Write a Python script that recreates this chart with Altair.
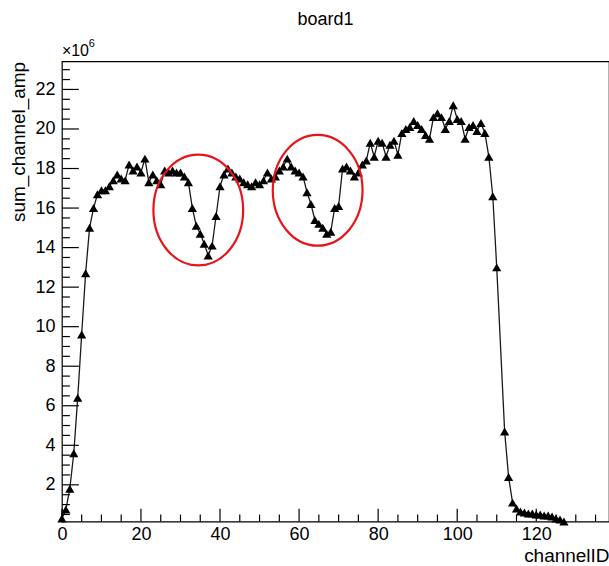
import altair as alt
import pandas as pd

# Summed channel amplitude per channel (units of 1e6); channel 111 has no entry
channels = list(range(0, 111)) + list(range(112, 128))
amp = [
    0.3, 0.75, 1.8, 3.6, 6.4, 9.6, 12.7, 15.0, 16.0, 16.7,          # 0-9
    16.9, 16.9, 17.1, 17.4, 17.7, 17.5, 17.4, 18.2, 17.9, 18.1,     # 10-19
    17.8, 18.5, 17.3, 17.7, 17.4, 17.2, 17.9, 17.8, 17.9, 17.8,     # 20-29
    17.8, 17.6, 17.3, 16.0, 15.1, 14.7, 14.2, 13.6, 14.1, 15.6,     # 30-39
    17.1, 17.7, 18.0, 17.8, 17.6, 17.5, 17.3, 17.2, 17.1, 17.3,     # 40-49
    17.2, 17.4, 17.8, 17.5, 17.6, 17.9, 18.1, 18.5, 18.1, 17.9,     # 50-59
    17.8, 17.6, 16.8, 16.2, 15.4, 15.2, 15.0, 14.7, 14.8, 16.0,     # 60-69
    16.1, 18.0, 18.1, 17.9, 17.6, 17.8, 18.2, 18.4, 19.3, 18.6,     # 70-79
    19.4, 19.3, 18.6, 19.2, 19.4, 18.7, 19.8, 20.0, 20.1, 20.4,     # 80-89
    20.2, 20.0, 19.7, 19.5, 20.6, 20.8, 20.6, 20.0, 20.4, 21.2,     # 90-99
    20.5, 20.4, 19.5, 20.1, 20.2, 19.9, 20.3, 19.8, 18.6, 16.6,     # 100-109
    13.0,                                                           # 110
    4.7, 2.4, 1.1, 0.8, 0.65, 0.6, 0.55, 0.55, 0.5,                 # 112-120
    0.5, 0.45, 0.45, 0.4, 0.3, 0.25, 0.15,                          # 121-127
]

# Highlighted regions (centre channel, centre amplitude)
ring_x = [34.5, 64.7]
ring_y = [15.9, 16.9]

# Axis tick values
x_major = [0, 20, 40, 60, 80, 100, 120]
x_minor = [v for v in range(5, 140, 5) if v % 20 != 0]
y_major = [2, 4, 6, 8, 10, 12, 14, 16, 18, 20, 22]
y_minor = [v / 2 for v in range(1, 47) if v % 4 != 0]

W, H = 548, 461
FONT = "Liberation Sans"

xs = alt.Scale(domain=[0, 138.4], nice=False, zero=False)
ys = alt.Scale(domain=[0.14, 23.42], nice=False, zero=False)

df = pd.DataFrame({"ch": channels, "amp": amp})
rings = pd.DataFrame({"ch": ring_x, "amp": ring_y})

x_axis = alt.Axis(
    values=x_major, ticks=False, tickSize=0, domain=False, grid=False,
    labelFlush=False, labelOverlap=False,
    labelFont=FONT, labelFontSize=18, labelColor="black", labelPadding=4,
    title="channelID", titleFont=FONT, titleFontSize=19, titleFontWeight="normal",
    titleColor="black", titleAlign="right", titleBaseline="alphabetic",
    titleX=W, titleY=40,
)
y_axis = alt.Axis(
    values=y_major, ticks=False, tickSize=0, domain=False, grid=False,
    labelFlush=False, labelOverlap=False,
    labelFont=FONT, labelFontSize=18, labelColor="black", labelPadding=7,
    title="sum_channel_amp", titleFont=FONT, titleFontSize=19, titleFontWeight="normal",
    titleColor="black", titleAngle=270, titleAlign="right", titleBaseline="middle",
    titleX=-43, titleY=0,
)

line = alt.Chart(df).mark_line(color="#1a1a1a", strokeWidth=1.3).encode(
    x=alt.X("ch:Q", scale=xs, axis=x_axis),
    y=alt.Y("amp:Q", scale=ys, axis=y_axis),
)
points = alt.Chart(df).mark_point(
    shape="triangle-up", filled=True, color="black", size=85, opacity=1
).encode(
    x=alt.X("ch:Q", scale=xs, axis=x_axis),
    y=alt.Y("amp:Q", scale=ys, axis=y_axis),
)

ellipse_path = "M -0.81 0 A 0.81 1 0 1 1 0.81 0 A 0.81 1 0 1 1 -0.81 0 Z"
circles = alt.Chart(rings).mark_point(
    shape=ellipse_path, filled=False, stroke="#e8141b", strokeWidth=2.2,
    size=12321, opacity=1
).encode(
    x=alt.X("ch:Q", scale=xs, axis=x_axis),
    y=alt.Y("amp:Q", scale=ys, axis=y_axis),
)


def y_ticks(values, length):
    return alt.Chart(pd.DataFrame({"v": values})).mark_rule(
        color="black", strokeWidth=1.2
    ).encode(
        y=alt.Y("v:Q", scale=ys, axis=y_axis),
        x=alt.value(0),
        x2=alt.value(length),
    )


def x_ticks(values, length):
    return alt.Chart(pd.DataFrame({"v": values})).mark_rule(
        color="black", strokeWidth=1.2
    ).encode(
        x=alt.X("v:Q", scale=xs, axis=x_axis),
        y=alt.value(H),
        y2=alt.value(H - length),
    )


exp_base = alt.Chart(pd.DataFrame({"t": ["\u00d710"]})).mark_text(
    font=FONT, fontSize=16, align="left", baseline="alphabetic", color="black"
).encode(text="t:N", x=alt.value(0), y=alt.value(-5))
exp_pow = alt.Chart(pd.DataFrame({"t": ["6"]})).mark_text(
    font=FONT, fontSize=11, align="left", baseline="alphabetic", color="black"
).encode(text="t:N", x=alt.value(27), y=alt.value(-14))
heading = alt.Chart(pd.DataFrame({"t": ["board1"]})).mark_text(
    font=FONT, fontSize=18, align="center", baseline="alphabetic", color="black"
).encode(text="t:N", x=alt.value(264), y=alt.value(-36))

chart = alt.layer(
    line, points, circles,
    y_ticks(y_minor, 8), y_ticks(y_major, 17),
    x_ticks(x_minor, 7), x_ticks(x_major, 13),
    exp_base, exp_pow, heading,
).properties(
    width=W, height=H,
    autosize=alt.AutoSizeParams(type="none"),
    padding={"left": 62, "top": 61, "right": 0, "bottom": 44},
    background="white",
).configure_view(
    stroke="black", strokeWidth=1.2
).configure_axis(
    grid=False
)

chart.save("out.html", embed_options={"renderer": "svg", "actions": False})
